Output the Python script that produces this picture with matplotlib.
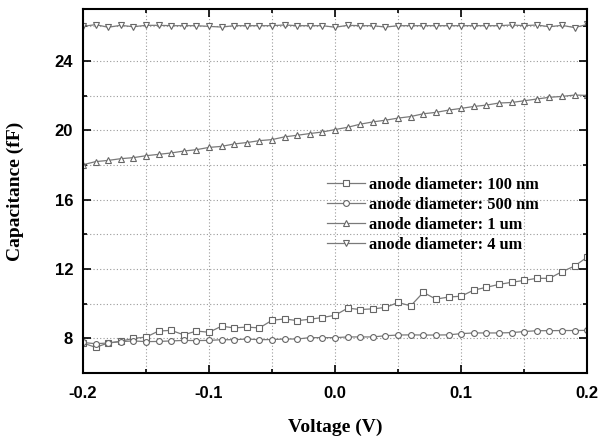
import numpy as np
import matplotlib
matplotlib.use("Agg")
import matplotlib.pyplot as plt
from matplotlib.ticker import MultipleLocator

# voltage sweep, 0.01 V step
voltage = np.round(np.arange(-0.2, 0.2001, 0.01), 2)

cap_100nm = [7.73, 7.48, 7.73, 7.83, 8.0, 8.07, 8.42, 8.46, 8.2, 8.42,
             8.35, 8.7, 8.6, 8.65, 8.6, 9.04, 9.12, 9.02, 9.1, 9.2,
             9.33, 9.74, 9.66, 9.7, 9.78, 10.07, 9.87, 10.65, 10.26, 10.38,
             10.43, 10.78, 10.94, 11.11, 11.23, 11.34, 11.46, 11.46, 11.84, 12.17,
             12.68]
cap_500nm = [7.76, 7.69, 7.73, 7.81, 7.85, 7.81, 7.82, 7.85, 7.88, 7.87,
             7.88, 7.92, 7.92, 7.96, 7.92, 7.93, 7.96, 7.96, 8.04, 8.04,
             8.04, 8.08, 8.08, 8.08, 8.15, 8.19, 8.2, 8.19, 8.19, 8.2,
             8.27, 8.31, 8.31, 8.31, 8.33, 8.39, 8.44, 8.44, 8.45, 8.45,
             8.46]
cap_1um = [18.01, 18.19, 18.26, 18.36, 18.42, 18.53, 18.61, 18.69, 18.8, 18.88,
           19.01, 19.07, 19.21, 19.29, 19.4, 19.46, 19.62, 19.71, 19.81, 19.9,
           20.04, 20.17, 20.35, 20.48, 20.58, 20.7, 20.79, 20.95, 21.03, 21.16,
           21.26, 21.37, 21.45, 21.57, 21.6, 21.7, 21.8, 21.9, 21.95, 22.03,
           22.01]
cap_4um = [25.99, 26.09, 25.94, 26.05, 25.97, 26.05, 26.05, 26.03, 26.03, 26.03,
           25.99, 25.95, 26.03, 26.03, 26.03, 26.03, 26.07, 26.03, 26.03, 26.03,
           25.94, 26.05, 26.03, 26.03, 25.95, 26.03, 26.03, 26.03, 26.03, 26.03,
           26.03, 26.03, 26.03, 26.03, 26.07, 26.03, 26.07, 25.97, 26.05, 25.92,
           26.1]

labels = ["anode diameter: 100 nm", "anode diameter: 500 nm",
          "anode diameter: 1 um", "anode diameter: 4 um"]
xticks = [-0.2, -0.1, 0.0, 0.1, 0.2]
xticklabels = ["-0.2", "-0.1", "0.0", "0.1", "0.2"]
yticks = [8, 12, 16, 20, 24]

fig = plt.figure(figsize=(6.01, 4.43), dpi=100)
ax = fig.add_axes([0.138, 0.158, 0.839, 0.822])

line_col = "#7a7a7a"
mk_col = "#666666"
common = dict(color=line_col, lw=0.9, markersize=4.2, markerfacecolor="white",
              markeredgecolor=mk_col, markeredgewidth=0.8)

ax.plot(voltage, cap_100nm, marker="s", label=labels[0], **common)
ax.plot(voltage, cap_500nm, marker="o", label=labels[1], **common)
ax.plot(voltage, cap_1um, marker="^", label=labels[2], **common)
ax.plot(voltage, cap_4um, marker="v", label=labels[3], **common)

ax.set_xlim(-0.2, 0.2)
ax.set_ylim(6, 27)
ax.set_xticks(xticks)
ax.set_xticklabels(xticklabels)
ax.xaxis.set_minor_locator(MultipleLocator(0.05))
ax.set_yticks(yticks)
ax.yaxis.set_minor_locator(MultipleLocator(2))

ax.grid(True, which="both", linestyle=(0, (1, 2)), color="#9a9a9a", lw=0.8)
ax.tick_params(which="both", direction="in", top=True, right=True, width=1.2)
ax.tick_params(which="major", length=6)
ax.tick_params(which="minor", length=3)
for s in ax.spines.values():
    s.set_linewidth(1.5)

for t in ax.get_xticklabels() + ax.get_yticklabels():
    t.set_fontfamily("Liberation Sans")
    t.set_fontweight("bold")
    t.set_fontsize(12)
ax.tick_params(axis="x", pad=9)
ax.tick_params(axis="y", pad=7)

ax.set_xlabel("Voltage (V)", fontfamily="Liberation Serif", fontweight="bold",
              fontsize=14, labelpad=13)
ax.set_ylabel("Capacitance (fF)", fontfamily="Liberation Serif", fontweight="bold",
              fontsize=14, labelpad=22)

leg = ax.legend(loc="upper left", bbox_to_anchor=(0.462, 0.571), frameon=False,
                prop={"family": "Liberation Serif", "weight": "bold", "size": 11.8},
                handlelength=2.3, handletextpad=0.25, labelspacing=0.25,
                borderpad=0.2)

fig.savefig("out.png", dpi=100)
